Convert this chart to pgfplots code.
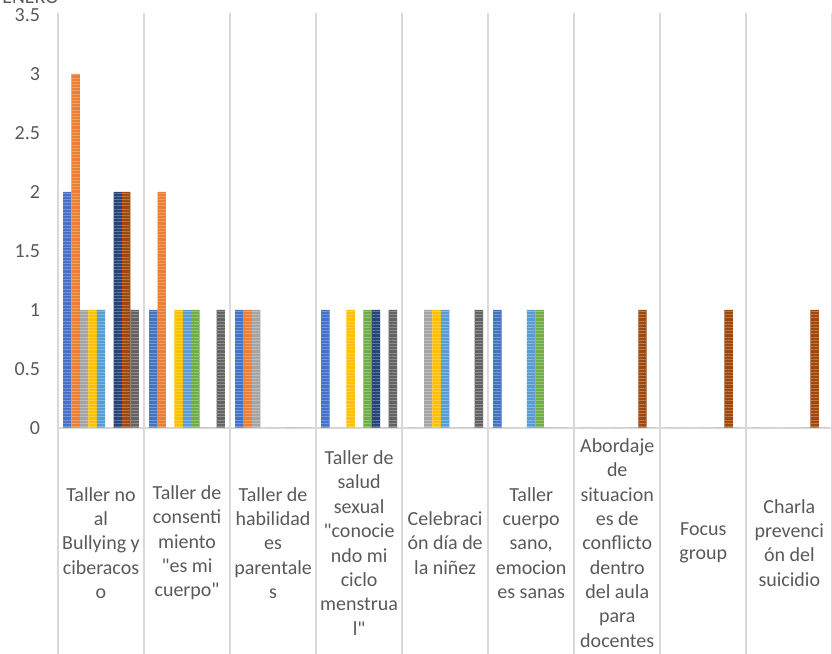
\documentclass[border=0pt]{standalone}
\usepackage{pgfplots}
\pgfplotsset{compat=1.18}
\usepackage{fontspec}
\setmainfont{Carlito}[Ligatures=TeXOff]
\usetikzlibrary{patterns.meta}

\definecolor{s1}{HTML}{4472C4}
\definecolor{s2}{HTML}{ED7D31}
\definecolor{s3}{HTML}{A5A5A5}
\definecolor{s4}{HTML}{FFC000}
\definecolor{s5}{HTML}{5B9BD5}
\definecolor{s6}{HTML}{70AD47}
\definecolor{s7}{HTML}{264478}
\definecolor{s8}{HTML}{9E480E}
\definecolor{s9}{HTML}{636363}
\definecolor{txt}{HTML}{595959}
\definecolor{gridc}{HTML}{D9D9D9}

\tikzset{
  stripes/.style={draw=none, fill=#1,
    postaction={pattern={Lines[angle=0,distance=2.4pt,line width=0.6pt]},
                pattern color=#1!72!white}}
}

\begin{document}
\begin{tikzpicture}[x=1pt,y=1pt]
\useasboundingbox (-43.5,-169.5) rectangle (581,321);
\node[anchor=south west, inner sep=0, font=\fontsize{15}{18}\selectfont, text=txt] at (-42,318) {ENERO};
\begin{axis}[
  at={(0,0)}, anchor=south west,
  scale only axis,
  width=581.25pt, height=309.75pt,
  xmin=-0.5, xmax=8.5,
  ymin=0, ymax=3.5,
  axis line style={draw=none},
  major tick length=0pt,
  ytick={0,0.5,...,3.5},
  xtick={0,1,...,8},
  xticklabels={
    {Taller no\\al\\Bullying y\\ciberacos\\o},
    {Taller de\\consenti\\miento\\"es mi\\cuerpo"},
    {Taller de\\habilidad\\es\\parentale\\s},
    {Taller de\\salud\\sexual\\"conocie\\ndo mi\\ciclo\\menstrua\\l"},
    {Celebraci\\ón día de\\la niñez},
    {Taller\\cuerpo\\sano,\\emocion\\es sanas},
    {Abordaje\\de\\situacion\\es de\\conflicto\\dentro\\del aula\\para\\docentes},
    {Focus\\group},
    {Charla\\prevenci\\ón del\\suicidio}
  },
  xticklabel style={align=center, anchor=center, yshift=-86.5pt,
    font=\fontsize{15}{18.3}\selectfont, text=txt},
  yticklabel style={font=\fontsize{15}{18}\selectfont, text=txt, xshift=-10pt},
  /pgf/number format/assume math mode=true,
  ybar=0pt, bar width=0.098,
  clip=false,
]
\draw[gridc, line width=1.5pt] (axis cs:-0.5,0) -- (axis cs:8.5,0);
\pgfplotsinvokeforeach{-0.5,0.5,1.5,2.5,3.5,4.5,5.5,6.5,7.5,8.5}{
  \draw[gridc, line width=1.5pt] (axis cs:#1,3.52) -- (axis cs:#1,0) -- ++(0pt,-170pt);
}
\addplot[stripes=s1] coordinates {(0,2) (1,1) (2,1) (3,1) (4,0) (5,1) (6,0) (7,0) (8,0)};
\addplot[stripes=s2] coordinates {(0,3) (1,2) (2,1) (3,0) (4,0) (5,0) (6,0) (7,0) (8,0)};
\addplot[stripes=s3] coordinates {(0,1) (1,0) (2,1) (3,0) (4,1) (5,0) (6,0) (7,0) (8,0)};
\addplot[stripes=s4] coordinates {(0,1) (1,1) (2,0) (3,1) (4,1) (5,0) (6,0) (7,0) (8,0)};
\addplot[stripes=s5] coordinates {(0,1) (1,1) (2,0) (3,0) (4,1) (5,1) (6,0) (7,0) (8,0)};
\addplot[stripes=s6] coordinates {(0,0) (1,1) (2,0) (3,1) (4,0) (5,1) (6,0) (7,0) (8,0)};
\addplot[stripes=s7] coordinates {(0,2) (1,0) (2,0) (3,1) (4,0) (5,0) (6,0) (7,0) (8,0)};
\addplot[stripes=s8] coordinates {(0,2) (1,0) (2,0) (3,0) (4,0) (5,0) (6,1) (7,1) (8,1)};
\addplot[stripes=s9] coordinates {(0,1) (1,1) (2,0) (3,1) (4,1) (5,0) (6,0) (7,0) (8,0)};
\end{axis}
\end{tikzpicture}
\end{document}
